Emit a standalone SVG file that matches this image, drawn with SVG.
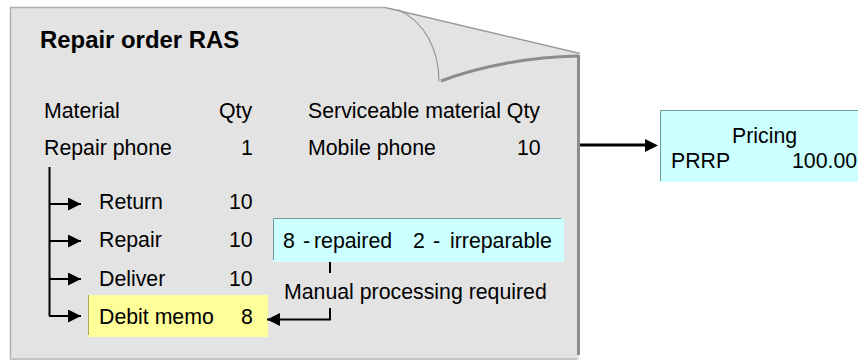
<svg xmlns="http://www.w3.org/2000/svg" width="858" height="360" viewBox="0 0 858 360">
<style>
text{font-family:"Liberation Sans",Arial,sans-serif;font-size:21.3px;fill:#000}
.c{fill:none;stroke:#000;stroke-width:2}
.a{fill:none;stroke:#000;stroke-width:2;marker-end:url(#ah)}
</style>
<defs><marker id="ah" markerUnits="userSpaceOnUse" markerWidth="14" markerHeight="14" refX="13" refY="6.5" orient="auto"><path d="M0 0L13 6.5L0 13z" fill="#000"/></marker></defs>
<rect width="858" height="360" fill="#fff"/>
<g id="page">
<path d="M10 8H385L579 54V360H10z" fill="#e3e3e3"/>
<path d="M10.500 360V7.500H385" fill="none" stroke="#b0b0b0" stroke-width="1.5"/>
<path d="M385 7.500L580 53.500" fill="none" stroke="#999" stroke-width="1.3"/>
<path d="M578.500 55V355" fill="none" stroke="#8c8c8c" stroke-width="3"/>
<path d="M10 359H577" fill="none" stroke="#c4c4c4" stroke-width="2"/>
<path d="M398 9.500C425 22 439 50 439 81.500" fill="none" stroke="#999" stroke-width="1.2"/>
<path d="M441 81C480 66 530 57 578 56" fill="none" stroke="#8c8c8c" stroke-width="3"/>
<text x="40" y="48" style="font-weight:700;font-size:23.9px">Repair order RAS</text>
<text x="44" y="118">Material</text><text x="219" y="118">Qty</text>
<text x="308" y="118">Serviceable material Qty</text>
<text x="44" y="155">Repair phone</text><text x="241" y="155">1</text>
<text x="308" y="155">Mobile phone</text><text x="517" y="155">10</text>
</g>
<g id="return"><text x="99" y="209">Return</text><text x="229" y="209">10</text></g>
<g id="repair"><text x="99" y="247">Repair</text><text x="229" y="247">10</text></g>
<g id="deliver"><text x="99" y="286">Deliver</text><text x="229" y="286">10</text></g>
<g id="debit-memo"><rect x="88" y="295" width="180" height="42" fill="#ffff99"/><path d="M88.500 295V335" stroke="#a8a860" fill="none"/><text x="99" y="324">Debit memo</text><text x="241" y="324">8</text></g>
<g id="status"><rect x="273" y="218" width="291" height="44" fill="#ccffff"/><path d="M273.500 260V218.500H561" stroke="#6f9a9a" fill="none"/><text x="283" y="248">8</text><text x="303" y="248">-</text><text x="314" y="248">repaired</text><text x="413" y="248">2</text><text x="433" y="248">-</text><text x="450" y="248">irreparable</text></g>
<g id="manual"><text x="284" y="299">Manual processing required</text></g>
<g id="pricing"><rect x="660" y="110" width="198" height="72" fill="#ccffff"/><path d="M660.500 181V110.500H858" stroke="#6f9a9a" fill="none"/><text x="732" y="143">Pricing</text><text x="671" y="168">PRRP</text><text x="792" y="168">100.00</text></g>
<g id="connectors">
<path class="c" d="M49.500 167V316"/>
<path class="a" d="M49 204H81"/>
<path class="a" d="M49 241H81"/>
<path class="a" d="M49 279H81"/>
<path class="a" d="M49 316H81"/>
<path class="c" d="M330 262V273"/>
<path class="a" d="M330 308V319.500H267"/>
<path d="M580 145H648" fill="none" stroke="#000" stroke-width="3"/><path d="M645 139L658 145.500L645 152z"/>
</g>
</svg>
